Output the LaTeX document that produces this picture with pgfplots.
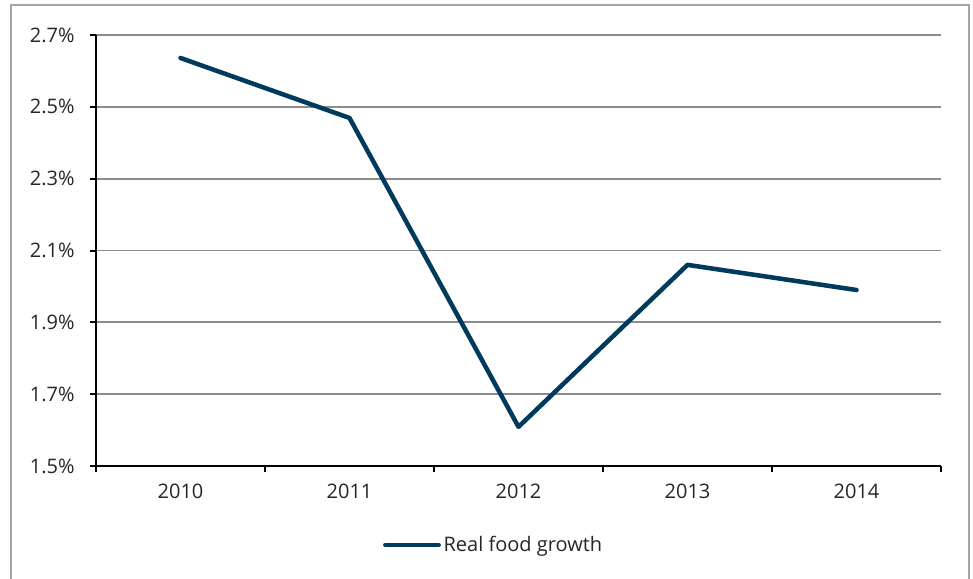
\documentclass[border=0pt]{standalone}
\usepackage{pgfplots}
\pgfplotsset{compat=1.18}
\usepackage{fontspec}
\setmainfont{Open Sans}
\definecolor{navy}{HTML}{003A5D}
\definecolor{txt}{HTML}{262626}
\definecolor{gridc}{HTML}{8C8C8C}
\definecolor{framec}{HTML}{A6A6A6}
\begin{document}
\begin{tikzpicture}
\path[use as bounding box] (-72pt,-84pt) rectangle (657.75pt,349.5pt);
\draw[framec, line width=1.2pt] (-63.75pt,-90pt) -- (-63.75pt,345.75pt) -- (654.75pt,345.75pt) -- (654.75pt,-90pt);
\begin{axis}[
 at={(0,0)}, anchor=south west,
 scale only axis, width=633.75pt, height=323.25pt,
 xmin=-0.5, xmax=4.5, ymin=1.5, ymax=2.7,
 axis lines=left, axis line style={-, black, line width=2pt},
 xtick={-0.5,0.5,1.5,2.5,3.5,4.5}, xticklabels={},
 extra x ticks={0,1,2,3,4},
 extra x tick labels={2010,2011,2012,2013,2014},
 extra x tick style={major tick length=0pt},
 ytick={1.5,1.7,1.9,2.1,2.3,2.5,2.7},
 yticklabels={1.5\%,1.7\%,1.9\%,2.1\%,2.3\%,2.5\%,2.7\%},
 tick align=outside,
 major tick length=4.5pt,
 tick style={black, line width=1.5pt},
 ymajorgrids,
 major grid style={gridc, line width=1.4pt},
 tick label style={font=\fontsize{15}{18}\selectfont, text=txt},
 yticklabel style={xshift=-8pt},
 xticklabel style={yshift=-10pt},
 legend style={at={(0.471,-0.183)}, anchor=center, draw=none, fill=none,
   font=\fontsize{15}{18}\selectfont, text=txt},
 legend image code/.code={\draw[#1] (0pt,0pt) -- (40pt,0pt);},
]
\addplot[navy, line width=3.4pt, line join=round, line cap=round] coordinates {
 (0,2.636) (1,2.469) (2,1.609) (3,2.060) (4,1.990)
};
\addlegendentry{Real food growth}
\end{axis}
\end{tikzpicture}
\end{document}
